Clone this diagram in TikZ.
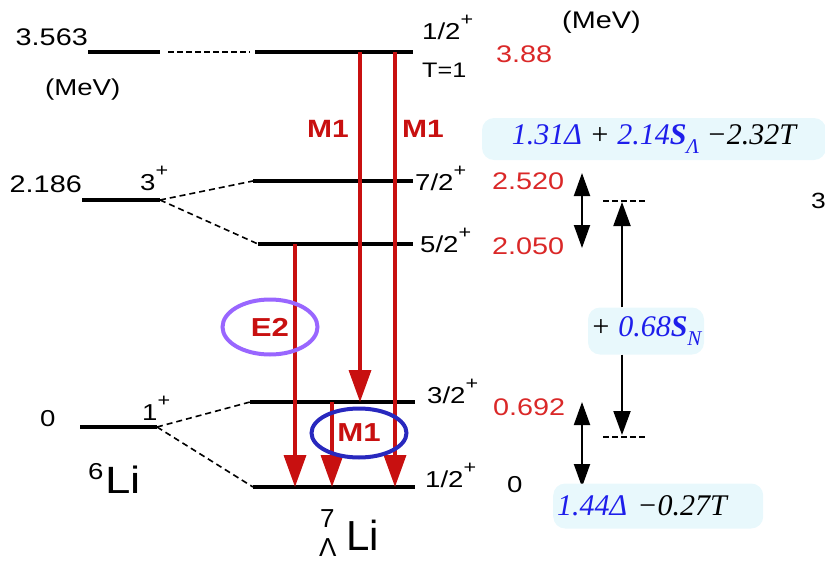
\documentclass[tikz,border=0pt]{standalone}
\usepackage{fontspec}
\usetikzlibrary{arrows.meta,shapes.geometric}
\newfontfamily\lsans[FakeStretch=1.2]{Liberation Sans}
\newfontfamily\lsansn{Liberation Sans}
\newfontfamily\lserif{Liberation Serif}
\newcommand\fsz[1]{\fontsize{#1}{#1}\selectfont}
\newcommand\pplus{\raisebox{0.6em}{\fsz{18}+}}
\newcommand\lowsub[1]{\raisebox{-0.32em}{\fsz{21}#1}}
\definecolor{tred}{RGB}{200,16,16}
\definecolor{nred}{RGB}{218,40,40}
\definecolor{fblue}{RGB}{30,30,235}
\definecolor{purp}{RGB}{153,102,255}
\definecolor{eblue}{RGB}{40,40,190}
\definecolor{boxbg}{RGB}{232,248,252}
\begin{document}
\begin{tikzpicture}[x=1pt,y=-1pt,
  lvl/.style={line width=4pt},
  corr/.style={line width=1.6pt, dash pattern=on 6pt off 4pt},
  fine/.style={line width=1.3pt, dash pattern=on 6pt off 3pt},
  gam/.style={draw=tred, line width=3.5pt, -{Triangle[length=32pt,width=22pt]}},
  darr/.style={line width=2pt, {Triangle[length=23pt,width=16pt]}-{Triangle[length=23pt,width=16pt]}},
  sarr/.style={line width=2pt, -{Triangle[length=24pt,width=17pt]}},
  txt/.style={inner sep=0pt, anchor=base west, font=\lsans\fsz{23}},
  val/.style={inner sep=0pt, anchor=base west, text=nred, font=\lsans\fsz{24}},
  mlab/.style={inner sep=0pt, anchor=base west, text=tred, font=\lsans\bfseries\fsz{25}},
  circ/.style={ellipse, line width=4pt, inner sep=0pt, text=tred, font=\lsans\bfseries\fsz{26}},
  fbox/.style={fill=boxbg, rounded corners=12pt, font=\lserif\itshape\fsz{30}}
]
\useasboundingbox (0,0) rectangle (825,562);

% level end points
\coordinate (a1) at (88,52);   \coordinate (a2) at (160,52);
\coordinate (b1) at (82,200);  \coordinate (b2) at (160,200);
\coordinate (c1) at (80,427);  \coordinate (c2) at (157,427);
\coordinate (r1w) at (255,52);  \coordinate (r1e) at (413,52);
\coordinate (r2w) at (253,181); \coordinate (r2e) at (413,181);
\coordinate (r3w) at (258,244); \coordinate (r3e) at (413,244);
\coordinate (r4w) at (250,402); \coordinate (r4e) at (415,402);
\coordinate (r5w) at (253,487); \coordinate (r5e) at (415,487);

% levels
\draw[lvl] (a1) -- (a2);
\draw[lvl] (b1) -- (b2);
\draw[lvl] (c1) -- (c2);
\draw[lvl] (r1w) -- (r1e);
\draw[lvl] (r2w) -- (r2e);
\draw[lvl] (r3w) -- (r3e);
\draw[lvl] (r4w) -- (r4e);
\draw[lvl] (r5w) -- (r5e);

% correspondences
\draw[fine, shorten <=8pt, shorten >=5pt] (a2) -- (r1w);
\draw[corr] (b2) -- (r2w);
\draw[corr] (b2) -- (r3w);
\draw[corr] (c2) -- (r4w);
\draw[corr] (c2) -- (r5w);

% gamma transitions
\coordinate (g1a) at (360,52);  \coordinate (g1b) at (360,402);
\coordinate (g2a) at (395,52);  \coordinate (g2b) at (395,487);
\coordinate (g3a) at (295,244); \coordinate (g3b) at (295,487);
\coordinate (g4a) at (332,402); \coordinate (g4b) at (332,487);
\draw[gam] (g1a) -- (g1b);
\draw[gam] (g2a) -- (g2b);
\draw[gam] (g3a) -- (g3b);
\draw[gam] (g4a) -- (g4b);

\node[mlab] (m1l) at (307,137) {M1};
\node[mlab] (m1r) at (402,137) {M1};
\node[circ, draw=purp, minimum width=95pt, minimum height=55pt] (e2) at (270,327) {E2};
\node[circ, draw=eblue, minimum width=95pt, minimum height=49pt] (m1c) at (359,433) {M1};

% left labels
\node[inner sep=0pt, anchor=base east, font=\lsans\fsz{24}] (e3563) at (88,45) {3.563};
\node[inner sep=0pt, anchor=base west, font=\lsans\fsz{23}] (mevl) at (45,95) {(MeV)};
\node[inner sep=0pt, anchor=base east, font=\lsans\fsz{24}] (e2186) at (82,192) {2.186};
\node[txt] (j3) at (140,190) {3\pplus};
\node[inner sep=0pt, anchor=base west, font=\lsans\fsz{23}] (e0l) at (40,426) {0};
\node[txt] (j1) at (142,420) {1\pplus};
\node[inner sep=0pt, anchor=base west, font=\lsans\fsz{38}] (li6) at (88,493) {\raisebox{14pt}{\fsz{23}6}\kern2pt Li};

% hypernucleus label
\node[inner sep=0pt, anchor=base west, font=\lsansn\fsz{26}] (h7) at (320,527) {7};
\node[inner sep=0pt, anchor=base west, font=\lsansn\fsz{26}] (hL) at (319,556) {Λ};
\node[inner sep=0pt, anchor=base west, font=\lsansn\fsz{42}] (hLi) at (346,550) {Li};

% right spin labels
\node[txt] (s1) at (422,39) {1/2\pplus};
\node[inner sep=0pt, anchor=base west, font=\lsans\fsz{21}] (t1) at (422,77) {T=1};
\node[txt] (s2) at (415,190) {7/2\pplus};
\node[txt] (s3) at (420,252) {5/2\pplus};
\node[txt] (s4) at (427,403) {3/2\pplus};
\node[txt] (s5) at (425,487) {1/2\pplus};

% energies
\node[inner sep=0pt, anchor=base west, font=\lsans\fsz{24}] (mevr) at (562,28) {(MeV)};
\node[val] (v1) at (496,62) {3.88};
\node[val] (v2) at (492,189) {2.520};
\node[val] (v3) at (492,254) {2.050};
\node[val] (v4) at (493,415) {0.692};
\node[inner sep=0pt, anchor=base west, font=\lsans\fsz{23}] (v5) at (507,492) {0};
\node[inner sep=0pt, anchor=base west, font=\lsans\fsz{22}] (cut3) at (811,208) {3};

% splittings
\coordinate (d1t) at (582,173); \coordinate (d1b) at (582,248);
\coordinate (d2t) at (582,402); \coordinate (d2b) at (582,487);
\draw[darr] (d1t) -- (d1b);
\draw[darr] (d2t) -- (d2b);
\coordinate (k1a) at (603,201); \coordinate (k1b) at (645,201);
\coordinate (k2a) at (603,437); \coordinate (k2b) at (645,437);
\draw[line width=1.3pt, dash pattern=on 6pt off 3pt] (k1a) -- (k1b);
\draw[line width=1.3pt, dash pattern=on 6pt off 3pt] (k2a) -- (k2b);

% formulas
\node[fbox, minimum width=344pt, minimum height=42pt, inner sep=0pt] (f1) at (654,139)
  {{\color{fblue}1.31Δ} + {\color{fblue}2.14\textbf{S}\lowsub{Λ}} −2.32T};
\node[fbox, anchor=west, minimum height=45pt, text width=202pt, inner xsep=4pt, align=left] (f2) at (553,506)
  {{\color{fblue}1.44Δ} −0.27T};
\node[fbox, minimum width=116pt, minimum height=47pt, inner xsep=2pt, inner ysep=0pt] (f3) at (646,331)
  {+ {\color{fblue}0.68\textbf{S}\lowsub{N}}};

\coordinate (up) at (622,202); \coordinate (dn) at (622,435);
\draw[sarr] (f3.north -| up) -- (up);
\draw[sarr] (f3.south -| dn) -- (dn);
\end{tikzpicture}
\end{document}
